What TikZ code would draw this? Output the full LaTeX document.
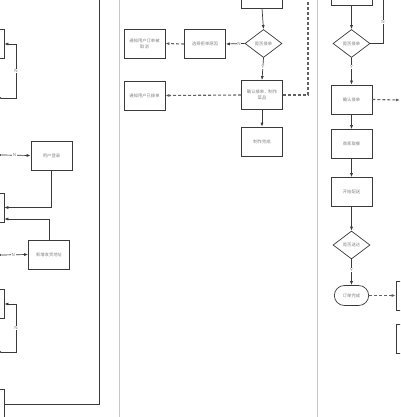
\documentclass[tikz,border=0pt]{standalone}
\usepackage{fontspec}
\newfontfamily\cjk{Noto Sans CJK SC}
\usetikzlibrary{shapes.geometric,arrows.meta,calc}
\definecolor{ln}{HTML}{3A3A3A}
\definecolor{tx}{HTML}{808080}
\definecolor{lane}{HTML}{B9CAD2}
\tikzset{
  box/.style={draw=ln, line width=0.7pt, minimum width=41pt, minimum height=29pt, inner sep=1pt, align=center, text width=38pt, font=\cjk\fontsize{4.3}{6}\selectfont, text=tx},
  dia/.style={draw=ln, line width=0.7pt, diamond, minimum width=37pt, minimum height=28pt, inner sep=0.5pt, font=\cjk\fontsize{4.3}{6}\selectfont, text=tx},
  term/.style={draw=ln, line width=0.7pt, rounded rectangle, minimum width=41pt, minimum height=20pt, font=\cjk\fontsize{4.3}{6}\selectfont, text=tx},
  arr/.style={draw=ln, line width=0.7pt, -{Latex[length=4pt,width=3pt]}},
  pln/.style={draw=ln, line width=0.7pt},
  dsh/.style={draw=ln!80, line width=1.1pt, dash pattern=on 3pt off 2pt},
  dsharr/.style={dsh, -{Latex[length=4pt,width=3pt]}},
  lab/.style={font=\sffamily\fontsize{4.5}{5}\selectfont, text=tx, fill=white, inner sep=0.6pt},
}
\usetikzlibrary{shapes.misc}
\begin{document}
\begin{tikzpicture}[x=1pt,y=-1pt]
\useasboundingbox (0,0) rectangle (400,417);
\fill[white] (0,0) rectangle (400,417);
\clip (0,0) rectangle (400,417);
% lane borders
\draw[lane, line width=0.8pt] (119.5,-2) -- (119.5,420);
\draw[lane, line width=0.8pt] (317,-2) -- (317,420);
% ---------------- left lane (partial shapes) ----------------
\node[term] (lt) at (-17,-7) {};
\node[box] (lb1) at (-16.5,44) {};
\node[dia] (ld1) at (-17.5,98) {};
\node[dia] (ld2) at (-17.5,155) {};
\node[box] (login) at (51.5,155.5) {用户登录};
\node[box] (lb2) at (-16.5,207.5) {};
\node[dia] (ld3) at (-17.5,255) {};
\node[box] (addr) at (49,254.5) {新增收货地址};
\node[box] (lb3) at (-16.5,304) {};
\node[dia] (ld4) at (-17.5,352) {};
\node[box] (lb4) at (-16.5,404) {};
\coordinate (ltop) at (99,-5);
\draw[arr] (ld1.east) -- (16,98) |- (lb1.east) node[pos=0.25, lab] {N};
\draw[arr] (ld2.east) -- node[pos=0.45, lab] {N} (login.west);
\draw[arr] (login.south) |- (lb2.east);
\draw[arr] (addr.north) |- ([yshift=-11.5pt]lb2.east);
\draw[arr] (ld3.east) -- node[pos=0.45, lab] {N} (addr.west);
\draw[arr] (ld4.east) -- (16,352) |- (lb3.east) node[pos=0.25, lab] {N};
\draw[pln] (lb4.east) -| (ltop);
% ---------------- middle lane ----------------
\node[box] (m0) at (262,-6.5) {};
\node[dia] (md) at (263.5,43.5) {是否接单};
\node[box] (reason) at (205,44) {选择拒单原因};
\node[box] (ncancel) at (144.5,43.5) {通知用户订单被\\取消};
\node[box] (mconf) at (262,95) {确认接单，制作\\菜品};
\node[box] (nacc) at (144.5,95.5) {通知用户已接单};
\node[box] (mdone) at (262,141.5) {制作完成};
\coordinate (mtop) at (308,-5);
\draw[arr] (m0.south) -- (md.north);
\draw[arr] (md.south) -- node[pos=0.4, lab] {Y} (mconf.north);
\draw[arr] (md.west) -- node[pos=0.3, lab] {N} (reason.east);
\draw[dsharr] (reason.west) -- (ncancel.east);
\draw[dsharr] (mconf.west) -- (nacc.east);
\draw[dsh] (mconf.east) -| (mtop);
\draw[arr] (mconf.south) -- (mdone.north);
% ---------------- right lane ----------------
\node[box] (r0) at (351.5,-9.5) {};
\node[dia] (rd) at (351.5,43.5) {是否接单};
\node[box] (rconf) at (351.5,99.5) {确认接单};
\node[box] (pick) at (351.5,144) {商家取餐};
\node[box] (go) at (351.5,192) {开始配送};
\node[dia] (rd2) at (351.5,245) {是否送达};
\node[term] (rdone) at (351.5,295.5) {订单完成};
\node[box] (rb1) at (416.5,295.5) {};
\node[box] (rb2) at (416.5,338.5) {};
\coordinate (rtop) at (383,-5);
\coordinate (rout) at (400,100);
\draw[arr] (r0.south) -- (rd.north);
\draw[pln] (rd.east) -| (rtop) node[pos=0.72, lab] {N};
\draw[arr] (rd.south) -- node[pos=0.35, lab] {Y} (rconf.north);
\draw[dsharr] (rconf.east) -- (rout);
\draw[arr] (rconf.south) -- (pick.north);
\draw[arr] (pick.south) -- (go.north);
\draw[arr] (go.south) -- (rd2.north);
\draw[arr] (rd2.south) -- node[pos=0.4, lab] {Y} (rdone.north);
\draw[dsharr] (rdone.east) -- (rb1.west);
\end{tikzpicture}
\end{document}
